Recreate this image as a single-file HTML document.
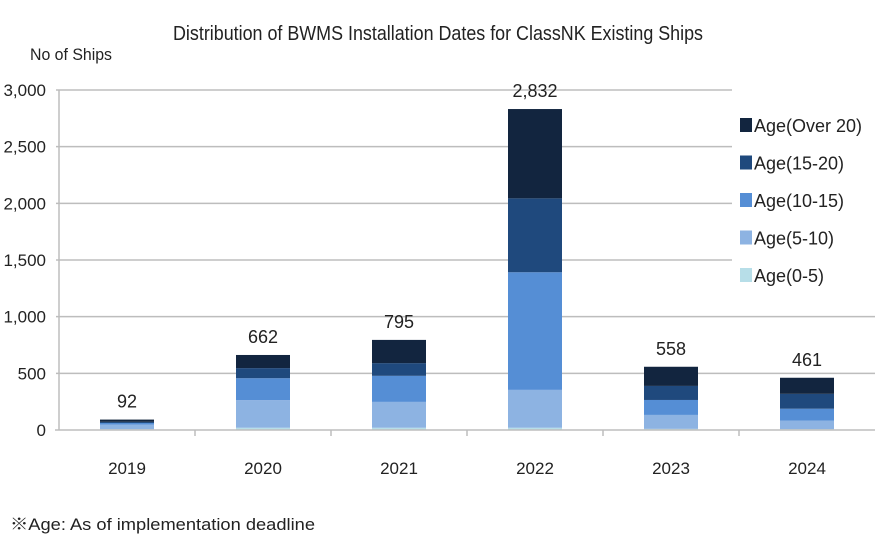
<!DOCTYPE html>
<html><head><meta charset="utf-8"><style>
body{margin:0;background:#fff;}
svg{font-family:"Liberation Sans","Noto Sans CJK JP",sans-serif;}
</style></head><body>
<svg id="chart" width="880" height="540">
<text x="438" y="40" text-anchor="middle" font-size="20" textLength="530" lengthAdjust="spacingAndGlyphs" fill="#222">Distribution of BWMS Installation Dates for ClassNK Existing Ships</text>
<text x="30" y="60" font-size="17" textLength="82" lengthAdjust="spacingAndGlyphs" fill="#222">No of Ships</text>
<g id="grid"></g><g id="bars"></g><g id="axes"></g>
<g id="legend"></g>
<text x="10" y="530" font-size="17" textLength="305" lengthAdjust="spacingAndGlyphs" fill="#222">※Age: As of implementation deadline</text>
</svg>
<script>
const categories=["2019","2020","2021","2022","2023","2024"];
const age0_5=[7,20,20,20,10,8];
const age5_10=[40,243,228,334,123,74];
const age10_15=[15,194,230,1038,132,106];
const age15_20=[10,89,112,652,124,131];
const ageOver20=[20,116,205,788,169,142];
const totals=[92,662,795,2832,558,461];
const yTicks=[0,500,1000,1500,2000,2500,3000];
const yTickLabels=["0","500","1,000","1,500","2,000","2,500","3,000"];
const seriesNames=["Age(Over 20)","Age(15-20)","Age(10-15)","Age(5-10)","Age(0-5)"];
const NS="http://www.w3.org/2000/svg";
const X0=59,X1=875,Y0=430,Y1=90,YMAX=3000;
const bw=(X1-X0)/categories.length;
const y=v=>Y0-(v/YMAX)*(Y0-Y1);
const xc=i=>X0+bw*(i+0.5);
function mk(tag,attrs,parent){const e=document.createElementNS(NS,tag);for(const k in attrs)e.setAttribute(k,attrs[k]);parent.appendChild(e);return e;}
const grid=document.getElementById('grid'),bars=document.getElementById('bars'),axes=document.getElementById('axes'),legend=document.getElementById('legend');
yTicks.forEach((t,i)=>{
 if(t>0){const l=mk('line',{x1:X0-3,x2:(t>=1500?732:X1),y1:y(t),y2:y(t),stroke:'#bdbdbd','stroke-width':1.5},grid);
 
 }
 const tx=mk('text',{x:46,y:y(t)+6,'text-anchor':'end','font-size':17,fill:'#222'},axes);
 tx.textContent=yTickLabels[i];
 
 
});
mk('line',{x1:X0-4,x2:X1,y1:Y0,y2:Y0,stroke:'#bdbdbd','stroke-width':1.5},axes);
mk('line',{x1:X0,x2:X0,y1:Y1,y2:Y0,stroke:'#bdbdbd','stroke-width':1.5},axes);
const stacks=[age0_5,age5_10,age10_15,age15_20,ageOver20];
const colors=["#b7dee8","#8db3e2","#558ed5","#1f497d","#12253f"];
const segNames=["age-0-5","age-5-10","age-10-15","age-15-20","age-over-20"];
categories.forEach((c,i)=>{
 if(i>0){mk('line',{x1:X0+bw*i,x2:X0+bw*i,y1:Y0,y2:Y0+6,stroke:'#bdbdbd','stroke-width':1.5},axes);}
 let acc=0;
 stacks.forEach((s,k)=>{
  const r=mk('rect',{x:xc(i)-27,y:y(acc+s[i]),width:54,height:y(acc)-y(acc+s[i]),fill:colors[k]},bars);
  
  
  acc+=s[i];
 });
 const tl=mk('text',{x:xc(i),y:y(totals[i])-12,'text-anchor':'middle','font-size':18,fill:'#222'},bars);
 tl.textContent=totals[i].toLocaleString('en-US');
 
 
 const xl=mk('text',{x:xc(i),y:474,'text-anchor':'middle','font-size':17,fill:'#222'},axes);
 xl.textContent=c;
 
 
});
const legColors=["#12253f","#1f497d","#558ed5","#8db3e2","#b7dee8"];
seriesNames.forEach((n,k)=>{
 const cy=125+k*37.5;
 mk('rect',{x:733,y:cy-13,width:860-733,height:36,fill:'#fff'},legend);
});
seriesNames.forEach((n,k)=>{
 const cy=125+k*37.5;
 const sq=mk('rect',{x:740,y:cy-7,width:12,height:14,fill:legColors[k]},legend);
 
 
 const t=mk('text',{x:754,y:cy+7,'font-size':18,fill:'#222'},legend);
 t.textContent=n;
 
 
});
</script>
</body></html>
